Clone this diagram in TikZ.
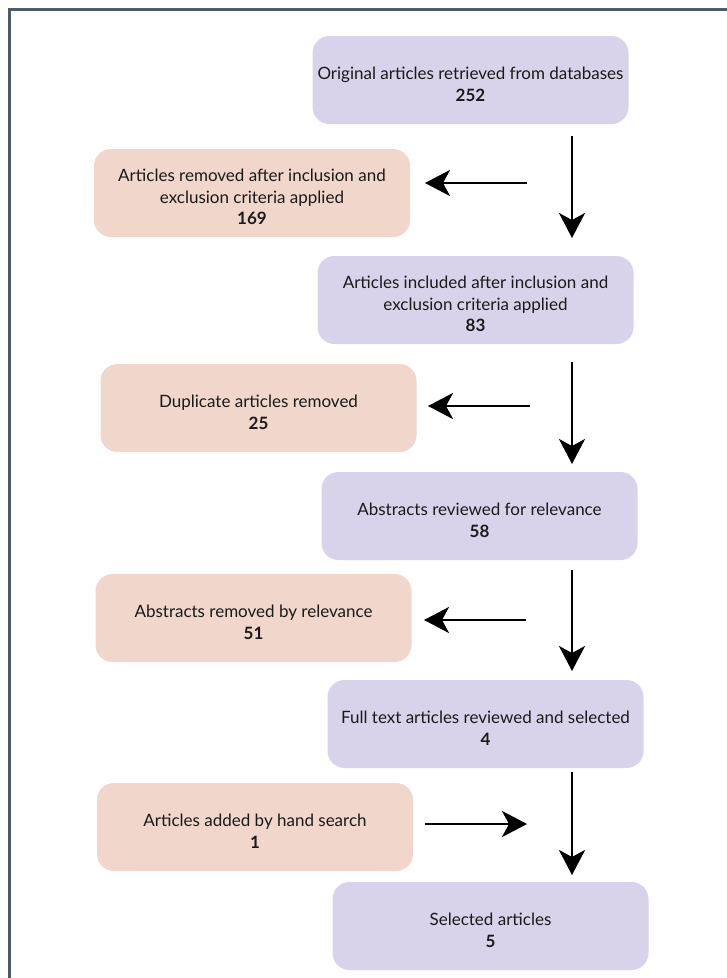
\documentclass[tikz,border=0pt]{standalone}
\usepackage{fontspec}
\setmainfont{Lato}
\usetikzlibrary{arrows.meta}
\definecolor{purplebox}{HTML}{D8D3EA}
\definecolor{peachbox}{HTML}{F0D6CB}
\definecolor{framecol}{HTML}{4D5A6E}
\definecolor{textcol}{HTML}{1A1A1A}
\newcommand\toppad{\rule{0pt}{21pt}}
\tikzset{
  flowbox/.style={rounded corners=17pt, minimum width=316pt, minimum height=88pt, inner sep=0pt, align=center, text=textcol, font=\fontsize{17}{21.5}\selectfont},
  mainbox/.style={flowbox, fill=purplebox},
  sidebox/.style={flowbox, fill=peachbox},
  flowarrow/.style={line width=2.6pt, -{Stealth[length=25pt,width=26pt,inset=7pt]}}
}
\begin{document}
\begin{tikzpicture}[x=1pt,y=-1pt]
\useasboundingbox (0,0) rectangle (727,978);
\draw[framecol, line width=3pt] (728,9) -- (9,9) -- (9,979);
\node[mainbox] (n1) at (470.5,80) {\toppad Original articles retrieved from databases\\\textbf{252}};
\node[sidebox] (r1) at (252,193) {\toppad Articles removed after inclusion and\\exclusion criteria applied\\\textbf{169}};
\node[mainbox] (n2) at (475.5,300) {\toppad Articles included after inclusion and\\exclusion criteria applied\\\textbf{83}};
\node[sidebox] (r2) at (258.5,408) {\toppad Duplicate articles removed\\\textbf{25}};
\node[mainbox] (n3) at (479.5,516) {\toppad Abstracts reviewed for relevance\\\textbf{58}};
\node[sidebox] (r3) at (253.5,618) {\toppad Abstracts removed by relevance\\\textbf{51}};
\node[mainbox] (n4) at (485.5,724) {\toppad Full text articles reviewed and selected\\\textbf{4}};
\node[sidebox] (r4) at (255,827) {\toppad Articles added by hand search\\\textbf{1}};
\node[mainbox] (n5) at (490.5,926) {\toppad Selected articles\\\textbf{5}};
% arrow end points
\coordinate (v1s) at (572,136);
\coordinate (v1e) at (572,238);
\coordinate (h1s) at (527,183);
\coordinate (h1e) at (425,183);
\coordinate (v2s) at (572,362);
\coordinate (v2e) at (572,464);
\coordinate (h2s) at (530,406);
\coordinate (h2e) at (428,406);
\coordinate (v3s) at (572,570);
\coordinate (v3e) at (572,671);
\coordinate (h3s) at (526,620);
\coordinate (h3e) at (424,620);
\coordinate (v4s) at (572,772);
\coordinate (v4e) at (572,875);
\coordinate (h4s) at (425,824);
\coordinate (h4e) at (527,824);
\draw[flowarrow] (v1s) -- (v1e);
\draw[flowarrow] (h1s) -- (h1e);
\draw[flowarrow] (v2s) -- (v2e);
\draw[flowarrow] (h2s) -- (h2e);
\draw[flowarrow] (v3s) -- (v3e);
\draw[flowarrow] (h3s) -- (h3e);
\draw[flowarrow] (v4s) -- (v4e);
\draw[flowarrow] (h4s) -- (h4e);
\end{tikzpicture}
\end{document}
